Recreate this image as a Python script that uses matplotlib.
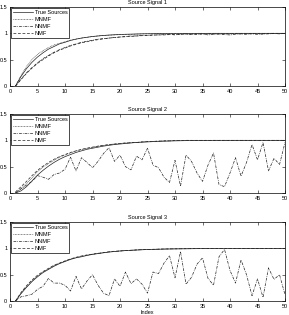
import numpy as np
import matplotlib
matplotlib.use('Agg')
import matplotlib.pyplot as plt

plt.rcParams['font.family'] = ['Liberation Sans', 'DejaVu Sans']
plt.rcParams['font.size'] = 4

index = list(range(1, 51))

# Source Signal 1
true1 = [0, 0.18, 0.33, 0.45, 0.55, 0.63, 0.70, 0.75, 0.80, 0.83,
         0.865, 0.89, 0.91, 0.925, 0.94, 0.95, 0.96, 0.967, 0.973, 0.978,
         0.982, 0.985, 0.988, 0.99, 0.992, 0.993, 0.995, 0.996, 0.997, 0.997,
         0.998, 0.998, 0.999, 0.999, 0.999, 1.0, 1.0, 1.0, 1.0, 1.0,
         1.0, 1.0, 1.0, 1.0, 1.0, 1.0, 1.0, 1.0, 1.0, 1.0]
mnmf1 = [0, 0.2, 0.37, 0.5, 0.6, 0.67, 0.73, 0.78, 0.81, 0.84,
         0.87, 0.89, 0.91, 0.925, 0.94, 0.95, 0.96, 0.965, 0.97, 0.975,
         0.98, 0.98, 0.985, 0.99, 0.99, 0.99, 0.995, 0.99, 0.995, 1.0,
         0.995, 1.0, 0.995, 1.0, 1.0, 0.995, 1.0, 1.0, 1.0, 0.995,
         1.0, 1.0, 1.0, 1.0, 1.0, 1.0, 1.0, 1.0, 1.0, 1.0]
nnmf1 = [0, 0.13, 0.25, 0.35, 0.44, 0.52, 0.58, 0.64, 0.69, 0.73,
         0.77, 0.80, 0.83, 0.85, 0.87, 0.89, 0.9, 0.91, 0.92, 0.93,
         0.94, 0.95, 0.95, 0.96, 0.96, 0.97, 0.97, 0.975, 0.98, 0.97,
         0.985, 0.99, 0.975, 0.98, 0.99, 0.97, 0.98, 0.99, 0.975, 0.97,
         0.98, 0.99, 0.98, 0.99, 0.98, 0.985, 0.99, 0.995, 0.99, 1.0]
nmf1 = [0, 0.12, 0.24, 0.34, 0.43, 0.5, 0.57, 0.63, 0.68, 0.72,
        0.76, 0.79, 0.82, 0.84, 0.86, 0.88, 0.895, 0.91, 0.92, 0.93,
        0.935, 0.94, 0.95, 0.955, 0.96, 0.965, 0.97, 0.97, 0.975, 0.98,
        0.98, 0.985, 0.985, 0.99, 0.985, 0.99, 0.99, 0.985, 0.99, 0.99,
        0.995, 0.99, 0.995, 0.995, 1.0, 0.995, 1.0, 1.0, 1.0, 1.0]

# Source Signal 2
true2 = [0, 0.04, 0.12, 0.23, 0.34, 0.43, 0.51, 0.58, 0.64, 0.69,
         0.73, 0.77, 0.80, 0.83, 0.85, 0.87, 0.89, 0.905, 0.92, 0.93,
         0.94, 0.95, 0.96, 0.965, 0.97, 0.975, 0.98, 0.984, 0.987, 0.99,
         0.992, 0.994, 0.996, 0.997, 0.998, 0.999, 1.0, 1.0, 1.0, 1.0,
         1.0, 1.0, 1.0, 1.0, 1.0, 1.0, 1.0, 1.0, 1.0, 1.0]
mnmf2 = [0, 0.08, 0.18, 0.29, 0.40, 0.49, 0.56, 0.62, 0.68, 0.72,
         0.76, 0.80, 0.82, 0.85, 0.87, 0.89, 0.90, 0.92, 0.93, 0.94,
         0.95, 0.955, 0.96, 0.97, 0.975, 0.98, 0.985, 0.99, 0.99, 0.995,
         0.995, 1.0, 1.0, 1.0, 1.0, 1.0, 1.0, 1.0, 1.0, 1.0,
         1.0, 1.0, 1.0, 1.0, 1.0, 1.0, 1.0, 1.0, 1.0, 1.0]
nnmf2 = [0, 0.08, 0.15, 0.22, 0.33, 0.30, 0.26, 0.35, 0.38, 0.45,
         0.68, 0.42, 0.67, 0.58, 0.48, 0.60, 0.75, 0.86, 0.60, 0.72,
         0.50, 0.44, 0.70, 0.63, 0.85, 0.53, 0.48, 0.30, 0.20, 0.62,
         0.13, 0.72, 0.60, 0.38, 0.22, 0.53, 0.76, 0.16, 0.12, 0.38,
         0.67, 0.32, 0.58, 0.92, 0.63, 0.96, 0.42, 0.66, 0.54, 0.96]
nmf2 = [0.02, 0.12, 0.22, 0.33, 0.43, 0.51, 0.58, 0.64, 0.69, 0.73,
        0.77, 0.80, 0.83, 0.85, 0.87, 0.89, 0.905, 0.92, 0.93, 0.94,
        0.95, 0.955, 0.96, 0.97, 0.975, 0.98, 0.985, 0.99, 0.99, 0.995,
        0.995, 1.0, 1.0, 1.0, 1.0, 1.0, 1.0, 1.0, 1.0, 1.0,
        1.0, 1.0, 1.0, 1.0, 1.0, 1.0, 1.0, 1.0, 1.0, 1.0]

# Source Signal 3
true3 = [0, 0.14, 0.26, 0.37, 0.46, 0.54, 0.60, 0.66, 0.71, 0.75,
         0.79, 0.82, 0.84, 0.865, 0.885, 0.90, 0.915, 0.93, 0.94, 0.95,
         0.957, 0.963, 0.968, 0.973, 0.977, 0.98, 0.983, 0.986, 0.988, 0.99,
         0.991, 0.992, 0.993, 0.994, 0.995, 0.996, 0.996, 0.997, 0.997, 0.998,
         0.998, 0.998, 0.999, 0.999, 0.999, 1.0, 1.0, 1.0, 1.0, 1.0]
mnmf3 = [0, 0.15, 0.27, 0.38, 0.47, 0.55, 0.61, 0.67, 0.72, 0.76,
         0.795, 0.825, 0.85, 0.87, 0.89, 0.905, 0.92, 0.93, 0.94, 0.95,
         0.958, 0.964, 0.97, 0.974, 0.978, 0.982, 0.985, 0.987, 0.989, 0.99,
         0.992, 0.993, 0.994, 0.995, 0.996, 0.996, 0.997, 0.997, 0.998, 0.998,
         0.998, 0.999, 0.999, 0.999, 1.0, 1.0, 1.0, 1.0, 1.0, 1.0]
nnmf3 = [0, 0.08, 0.10, 0.13, 0.22, 0.28, 0.43, 0.34, 0.34, 0.30,
         0.19, 0.47, 0.23, 0.38, 0.50, 0.30, 0.15, 0.10, 0.42, 0.28,
         0.55, 0.33, 0.42, 0.32, 0.15, 0.55, 0.52, 0.72, 0.86, 0.44,
         0.94, 0.32, 0.45, 0.70, 0.82, 0.43, 0.30, 0.84, 0.98, 0.58,
         0.34, 0.78, 0.50, 0.10, 0.42, 0.07, 0.63, 0.41, 0.50, 0.12]
nmf3 = [0, 0.16, 0.29, 0.40, 0.49, 0.56, 0.62, 0.68, 0.72, 0.76,
        0.80, 0.83, 0.855, 0.875, 0.89, 0.905, 0.92, 0.935, 0.945, 0.95,
        0.958, 0.964, 0.97, 0.975, 0.979, 0.982, 0.985, 0.988, 0.99, 0.991,
        0.992, 0.993, 0.994, 0.995, 0.996, 0.996, 0.997, 0.997, 0.998, 0.998,
        0.998, 0.999, 0.999, 0.999, 1.0, 1.0, 1.0, 1.0, 1.0, 1.0]

panels = [
    ('Source Signal 1', true1, mnmf1, nnmf1, nmf1),
    ('Source Signal 2', true2, mnmf2, nnmf2, nmf2),
    ('Source Signal 3', true3, mnmf3, nnmf3, nmf3),
]

fig = plt.figure(figsize=(2.89, 3.15), dpi=100)
bottoms = [0.727, 0.3873, 0.0444]
line_c = '#222222'

for (title, tr, mn, nn, nm), b in zip(panels, bottoms):
    ax = fig.add_axes([0.0346, b, 0.9516, 0.2508])
    ax.plot(index, tr, color=line_c, lw=0.5, ls='-', label='True Sources')
    ax.plot(index, mn, color=line_c, lw=0.5, ls=(0, (1, 1.2)), label='MNMF')
    ax.plot(index, nn, color=line_c, lw=0.5, ls=(0, (4, 1.5, 1, 1.5)), label='NNMF')
    ax.plot(index, nm, color=line_c, lw=0.5, ls=(0, (4, 2.5)), label='NMF')
    ax.set_xlim(0, 50)
    ax.set_ylim(0, 1.5)
    ax.set_xticks(range(0, 51, 5))
    ax.set_yticks([0, 0.5, 1, 1.5])
    ax.set_yticklabels(['0', '0.5', '1', '1.5'])
    ax.tick_params(direction='in', length=2.2, width=0.4, pad=2,
                   top=True, right=True, labelsize=4)
    for s in ax.spines.values():
        s.set_linewidth(0.5)
    ax.set_title(title, fontsize=4, pad=2)
    leg = ax.legend(loc='upper left', fontsize=4, borderaxespad=0.15,
                    fancybox=False, edgecolor='black', framealpha=1,
                    handlelength=3.6, labelspacing=0.35, borderpad=0.35,
                    handletextpad=0.35)
    leg.get_frame().set_linewidth(0.5)

ax.set_xlabel('Index', fontsize=4, labelpad=1)

fig.savefig('out.png', dpi=100)
